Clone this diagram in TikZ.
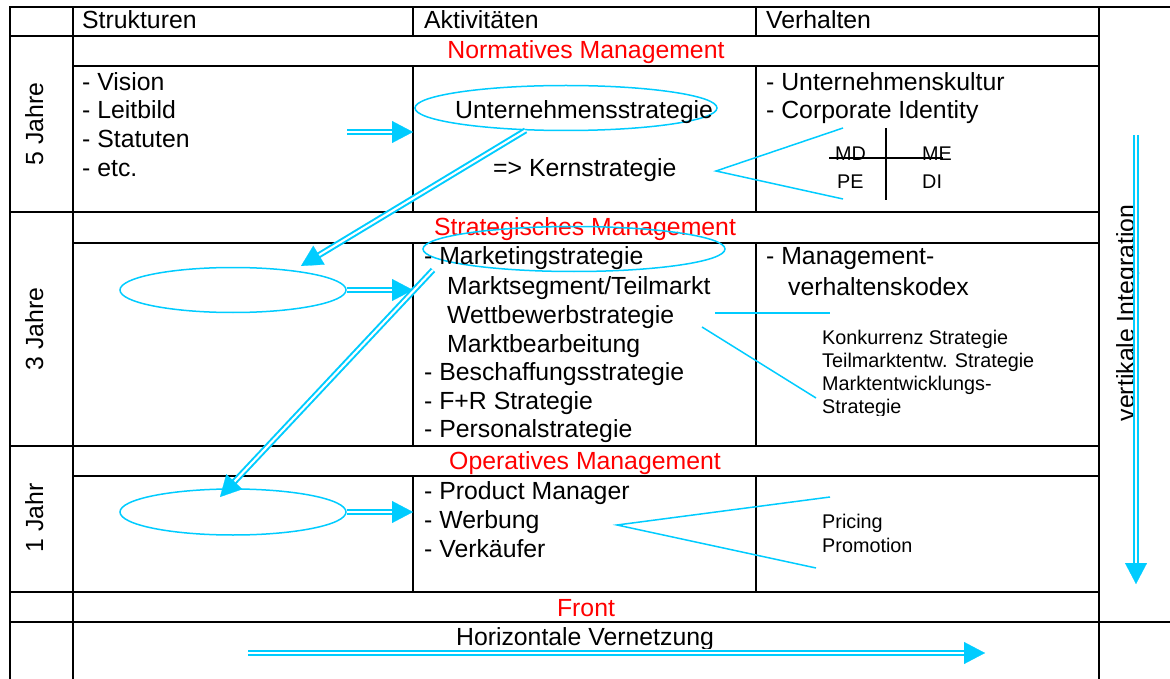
\documentclass[tikz,border=0pt]{standalone}
\usepackage{fontspec}
\setmainfont{Liberation Sans}
\usetikzlibrary{shapes.geometric,arrows.meta,calc}
\definecolor{cy}{RGB}{0,204,255}
\definecolor{rd}{RGB}{255,0,0}
\newcommand\txtbig{\fontsize{24.8}{28}\selectfont}
\newcommand\txtsmall{\fontsize{19.8}{23}\selectfont}
\tikzset{
  rule/.style={line width=1.9pt, line cap=rect},
  crossline/.style={line width=1.2pt},
  lbl/.style={font=\txtbig, inner sep=0pt, anchor=base west},
  small/.style={font=\txtsmall, inner sep=0pt, anchor=base west},
  title/.style={font=\txtbig, inner sep=0pt, anchor=base, text=rd},
  side/.style={font=\txtbig, inner sep=0pt, anchor=base, rotate=90},
  ring/.style={draw=cy, line width=1.5pt, ellipse, inner sep=0pt},
  link/.style={draw=cy, line width=1.5pt},
  flow/.style={draw=cy, line width=2pt, double=white, double distance=2.1pt, shorten >=19pt},
  head/.style={draw=cy, fill=cy, line width=0.2pt, -{Triangle[length=21pt,width=22pt]}},
}
\begin{document}
\begin{tikzpicture}[x=1pt,y=-1pt]
\fill[white] (0,0) rectangle (1170,679);
\useasboundingbox (0,0) rectangle (1170,679);

% ---- table rules ----
\draw[rule] (10,7) -- (1170,7);
\draw[rule] (10,36) -- (1099,36);
\draw[rule] (73,66) -- (1099,66);
\draw[rule] (10,212) -- (1099,212);
\draw[rule] (73,243) -- (1099,243);
\draw[rule] (10,446) -- (1099,446);
\draw[rule] (73,476) -- (1099,476);
\draw[rule] (10,592) -- (1099,592);
\draw[rule] (10,622) -- (1170,622);
\draw[rule] (10,7) -- (10,679);
\draw[rule] (73,7) -- (73,679);
\draw[rule] (1099,7) -- (1099,679);
\foreach \x in {413,756} {
  \draw[rule] (\x,7) -- (\x,36);
  \draw[rule] (\x,66) -- (\x,212);
  \draw[rule] (\x,243) -- (\x,446);
  \draw[rule] (\x,476) -- (\x,592);
}

% ---- column heads ----
\node[lbl] (hS) at (82,29) {Strukturen};
\node[lbl] (hA) at (424,29) {Aktivitäten};
\node[lbl] (hV) at (766,29) {Verhalten};

% ---- level titles ----
\node[title] (tN) at (586,59) {Normatives Management};
\node[title] (tS) at (585,236) {Strategisches Management};
\node[title] (tO) at (585,469) {Operatives Management};
\node[title] (tF) at (586,616) {Front};

% ---- time horizons ----
\node[side] (y5) at (43,124) {5 Jahre};
\node[side] (y3) at (43,329) {3 Jahre};
\node[side] (y1) at (43,518) {1 Jahr};

% ---- normative level ----
\node[lbl] (n1) at (82,91) {- Vision};
\node[lbl] (n2) at (82,119) {- Leitbild};
\node[lbl] (n3) at (82,148) {- Statuten};
\node[lbl] (n4) at (82,177) {- etc.};
\node[ring, minimum width=302pt, minimum height=45pt] (eU) at (566,108) {};
\node[lbl] (us) at (455,119) {Unternehmensstrategie};
\node[lbl] (ks) at (493,177) {=> Kernstrategie};
\node[lbl] (v1) at (766,91) {- Unternehmenskultur};
\node[lbl] (v2) at (766,119) {- Corporate Identity};
\node[small] (md) at (835,161) {MD};
\node[small] (me) at (922,161) {ME};
\node[small] (pe) at (837,189) {PE};
\node[small] (di) at (922,189) {DI};
\coordinate (cxL) at (829,158); \coordinate (cxR) at (943,158);
\coordinate (cxT) at (886,128); \coordinate (cxB) at (886,200);
\draw[crossline] (cxL) -- (cxR);
\draw[crossline] (cxT) -- (cxB);
\coordinate (kA) at (716,171);
\coordinate (kT) at (843,128);
\coordinate (kB) at (843,199);
\draw[link] (kT) -- (kA) -- (kB);

% ---- strategic level ----
\node[ring, minimum width=226pt, minimum height=45pt] (eS) at (233,290) {};
\node[ring, minimum width=302pt, minimum height=45pt] (eM) at (574,249) {};
\node[lbl] (s1) at (424,265) {- Marketingstrategie};
\node[lbl] (s2) at (447,294) {Marktsegment/Teilmarkt};
\node[lbl] (s3) at (447,323) {Wettbewerbstrategie};
\node[lbl] (s4) at (447,352) {Marktbearbeitung};
\node[lbl] (s5) at (424,380) {- Beschaffungsstrategie};
\node[lbl] (s6) at (424,409) {- F+R Strategie};
\node[lbl] (s7) at (424,437) {- Personalstrategie};
\node[lbl] (m1) at (766,265) {- Management-};
\node[lbl] (m2) at (788,295) {verhaltenskodex};
\begin{scope}
  \clip (800,320) rectangle (1090,415);
  \node[small] (w1) at (822,344) {Konkurrenz Strategie};
  \node[small] (w2) at (822,367) {Teilmarktentw. Strategie};
  \node[small] (w3) at (822,390) {Marktentwicklungs-};
  \node[small] (w4) at (822,413) {Strategie};
\end{scope}
\coordinate (wa1) at (715,313); \coordinate (wb1) at (830,313);
\coordinate (wa2) at (702,327); \coordinate (wb2) at (816,398);
\draw[link] (wa1) -- (wb1);
\draw[link] (wa2) -- (wb2);

% ---- operative level ----
\node[ring, minimum width=226pt, minimum height=46pt] (eO) at (233,512) {};
\node[lbl] (o1) at (424,499) {- Product Manager};
\node[lbl] (o2) at (424,528) {- Werbung};
\node[lbl] (o3) at (424,557) {- Verkäufer};
\node[small] (p1) at (822,528) {Pricing};
\node[small] (p2) at (822,552) {Promotion};
\coordinate (pA) at (617,525);
\coordinate (pT) at (830,497);
\coordinate (pB) at (816,568);
\draw[link] (pT) -- (pA) -- (pB);

% ---- bottom row ----
\begin{scope}
  \clip (300,622) rectangle (900,648);
  \node[font=\txtbig, inner sep=0pt, anchor=base] (hv) at (585,645) {Horizontale Vernetzung};
\end{scope}
\node[side] (vi) at (1134,313) {vertikale Integration};

% ---- flow arrows ----
\coordinate (a1s) at (347,132); \coordinate (a1e) at (413,132);
\coordinate (a2e) at (413,290);
\coordinate (a3e) at (413,512);
\coordinate (d1e) at (301,266);
\coordinate (d2s) at (433,270); \coordinate (d2e) at (220,497);
\coordinate (vs) at (1136,135); \coordinate (ve) at (1136,584);
\coordinate (hs) at (248,653); \coordinate (he) at (985,653);

\draw[flow] (a1s) -- (a1e);
\draw[head] ($(a1e)!20pt!(a1s)$) -- (a1e);
\draw[flow] (eS.east) -- (a2e);
\draw[head] ($(a2e)!20pt!(eS.east)$) -- (a2e);
\draw[flow] (eO.east) -- (a3e);
\draw[head] ($(a3e)!20pt!(eO.east)$) -- (a3e);
\draw[flow] (eU.-151) -- (d1e);
\draw[head] ($(d1e)!20pt!(eU.-151)$) -- (d1e);
\draw[flow] (d2s) -- (d2e);
\draw[head] ($(d2e)!20pt!(d2s)$) -- (d2e);
\draw[flow] (vs) -- (ve);
\draw[head] ($(ve)!20pt!(vs)$) -- (ve);
\draw[flow] (hs) -- (he);
\draw[head] ($(he)!20pt!(hs)$) -- (he);
\end{tikzpicture}
\end{document}
